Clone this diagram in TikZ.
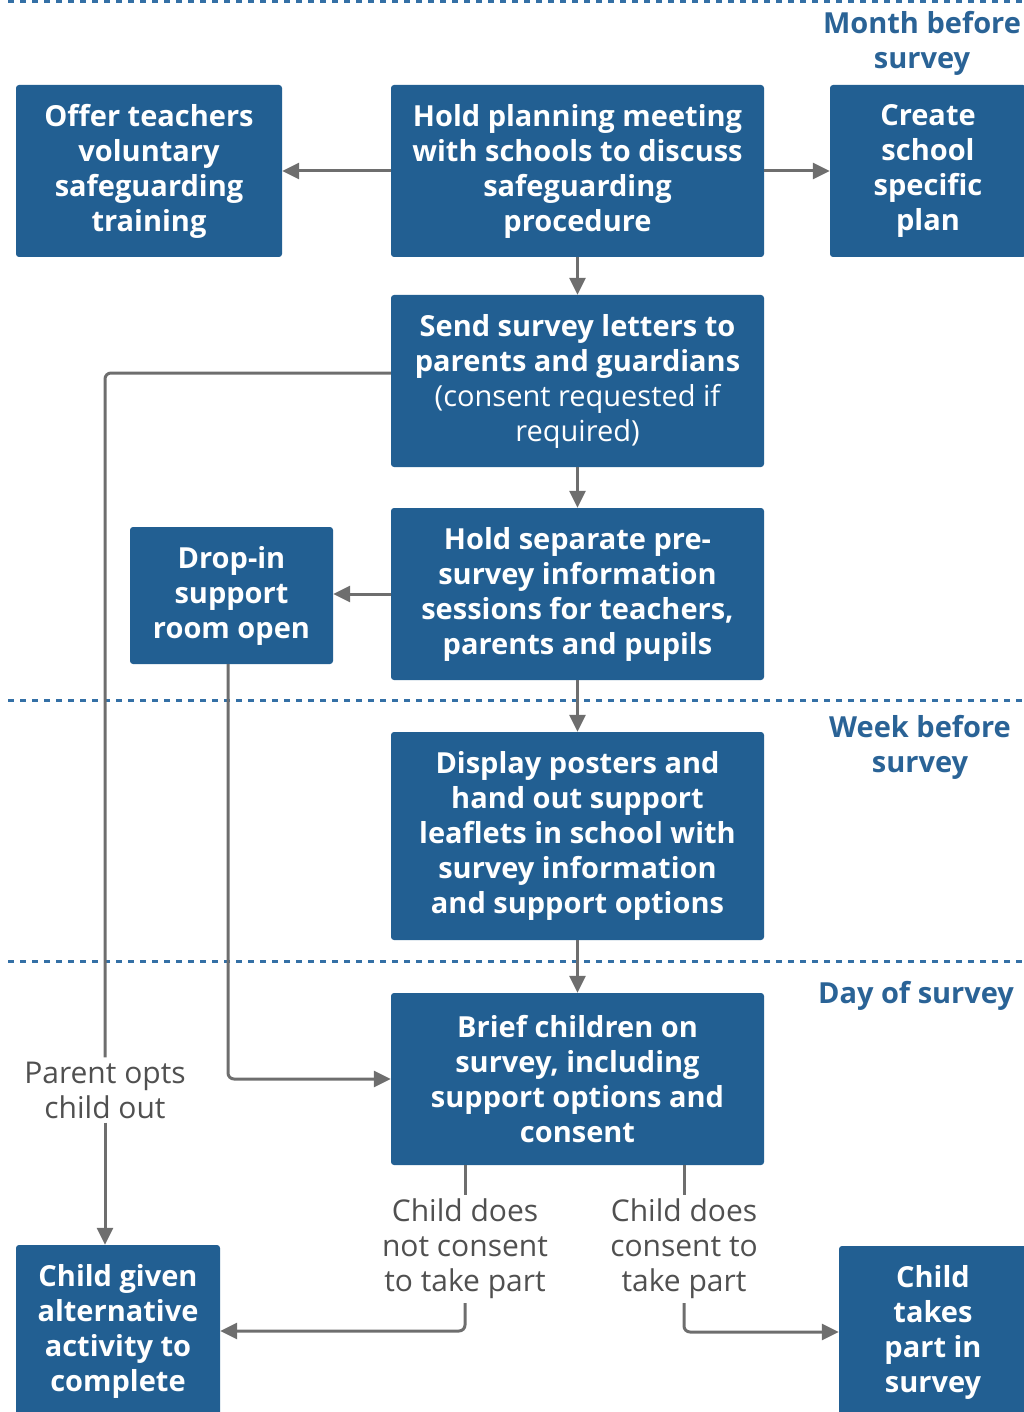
\documentclass[tikz,border=0pt]{standalone}
\usepackage{fontspec}
\setmainfont{Open Sans}
\usetikzlibrary{arrows.meta}
\definecolor{boxblue}{HTML}{225F92}
\definecolor{headblue}{HTML}{2A6396}
\definecolor{lineblue}{HTML}{3470A6}
\definecolor{arrowgrey}{HTML}{6E6E6E}
\definecolor{textgrey}{HTML}{505050}
\begin{document}
\begin{tikzpicture}[x=1pt,y=-1pt,
  box/.style={rectangle,rounded corners=3pt,fill=boxblue,text=white,align=center,
    font=\fontsize{29}{35}\selectfont\bfseries,inner sep=0pt},
  lbl/.style={align=center,text=textgrey,font=\fontsize{30}{35}\selectfont,inner sep=4pt},
  head/.style={align=center,text=headblue,font=\fontsize{29}{35}\selectfont\bfseries},
  link/.style={draw=arrowgrey,line width=3pt,rounded corners=6pt},
  arr/.style={link,-{Triangle[length=17pt,width=16pt]}},
  split/.style={draw=lineblue,line width=3pt,dash pattern=on 6pt off 6pt}]
\useasboundingbox (0,0) rectangle (1024,1412);

\draw[split] (8,1.5) -- (1024,1.5);
\draw[split] (8,700) -- (1024,700);
\draw[split] (8,961) -- (1024,961);

\node[head] (month) at (922,43) {Month before\\survey};
\node[head] (week) at (920,747) {Week before\\survey};
\node[head] (day) at (916,996) {Day of survey};

\node[box,minimum width=266pt,minimum height=172pt] (offer) at (149,171)
  {Offer teachers\\voluntary\\safeguarding\\training};
\node[box,minimum width=373pt,minimum height=172pt] (plan) at (577.5,171)
  {Hold planning meeting\\with schools to discuss\\safeguarding\\procedure};
\node[box,minimum width=196pt,minimum height=172pt] (create) at (928,171)
  {Create\\school\\specific\\plan};
\node[box,minimum width=373pt,minimum height=172pt] (send) at (577.5,381)
  {Send survey letters to\\parents and guardians\\\mdseries(consent requested if\\\mdseries required)};
\node[box,minimum width=373pt,minimum height=172pt] (sessions) at (577.5,594)
  {Hold separate pre-\\survey information\\sessions for teachers,\\parents and pupils};
\node[box,minimum width=203pt,minimum height=137pt] (dropin) at (231.5,595.5)
  {Drop-in\\support\\room open};
\node[box,minimum width=373pt,minimum height=208pt] (posters) at (577.5,836)
  {Display posters and\\hand out support\\leaflets in school with\\survey information\\and support options};
\node[box,minimum width=373pt,minimum height=172pt] (brief) at (577.5,1079)
  {Brief children on\\survey, including\\support options and\\consent};
\node[box,minimum width=204pt,minimum height=172pt] (given) at (118,1331)
  {Child given\\alternative\\activity to\\complete};
\node[box,minimum width=188pt,minimum height=172pt] (takes) at (933,1332)
  {Child\\takes\\part in\\survey};

\node[lbl] (optout) at (105,1090) {Parent opts\\child out};
\node[lbl] (nocons) at (465,1249) {Child does\\not consent\\to take part};
\node[lbl] (cons) at (684,1249) {Child does\\consent to\\take part};

\draw[arr] (plan.west) -- (offer.east);
\draw[arr] (plan.east) -- (create.west);
\draw[arr] (plan.south) -- (send.north);
\draw[arr] (send.south) -- (sessions.north);
\draw[arr] (sessions.west) -- (sessions.west -| dropin.east);
\draw[arr] (sessions.south) -- (posters.north);
\draw[arr] (posters.south) -- (brief.north);
\draw[link] ([yshift=8pt]send.west) -| (optout.north);
\draw[arr] (optout.south) -- (optout.south |- given.north);
\draw[arr] ([xshift=-3.5pt]dropin.south) |- (brief.west);
\draw[link] (brief.south -| nocons.north) -- (nocons.north);
\draw[arr] (nocons.south) |- (given.east);
\draw[link] (brief.south -| cons.north) -- (cons.north);
\draw[arr] (cons.south) |- (takes.west);
\end{tikzpicture}
\end{document}
